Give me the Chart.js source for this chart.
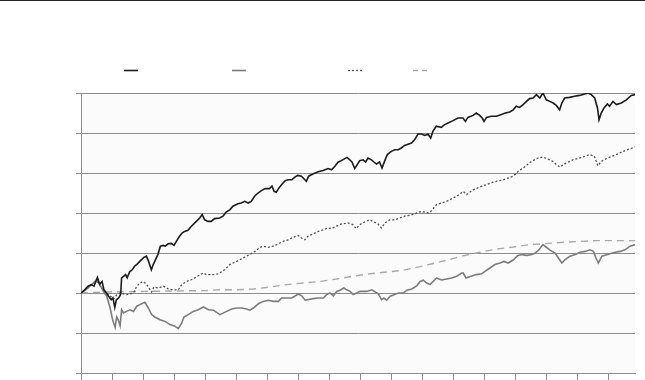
<!DOCTYPE html>
<html>
<head>
<meta charset="utf-8">
<script src="https://cdn.jsdelivr.net/npm/chart.js@4/dist/chart.umd.min.js"></script>
<style>
  html, body { margin: 0; padding: 0; background: #fff; }
  canvas { display: block; }
</style>
</head>
<body>
<canvas id="chart" width="645" height="380"></canvas>
<script>
// x = years from start, y = cumulative return (one unit per grid line)
const blackX = [0,0.12,0.23,0.33,0.42,0.53,0.60,0.68,0.74,0.82,0.89,0.98,1.03,1.09,1.14,1.22,1.28,1.31,1.38,1.44,1.49,1.57,1.65,1.73,1.82,1.92,2.03,2.11,2.18,2.27,2.33,2.40,2.48,2.56,2.65,2.72,2.81,2.91,3.00,3.09,3.18,3.26,3.34,3.45,3.56,3.72,3.83,3.91,3.99,4.10,4.20,4.31,4.47,4.58,4.68,4.80,4.90,5.06,5.17,5.28,5.39,5.49,5.60,5.71,5.82,5.94,6.08,6.16,6.23,6.30,6.38,6.48,6.59,6.68,6.80,6.89,6.99,7.11,7.22,7.27,7.34,7.48,7.65,7.81,7.97,8.08,8.19,8.29,8.40,8.51,8.58,8.67,8.74,8.83,8.91,8.99,9.10,9.18,9.26,9.37,9.45,9.53,9.63,9.71,9.80,9.88,10.01,10.12,10.23,10.33,10.44,10.55,10.66,10.76,10.87,10.98,11.09,11.19,11.28,11.35,11.46,11.62,11.73,11.84,12.00,12.16,12.32,12.40,12.48,12.65,12.75,12.86,12.94,13.00,13.08,13.24,13.40,13.56,13.69,13.83,13.94,14.04,14.15,14.26,14.37,14.47,14.58,14.69,14.80,14.90,15.01,15.12,15.23,15.33,15.44,15.51,15.60,15.76,15.92,16.08,16.25,16.35,16.46,16.57,16.66,16.71,16.78,16.87,16.98,17.05,17.16,17.27,17.43,17.59,17.75,17.87];
const blackY = [0,0.08,0.17,0.21,0.17,0.39,0.22,0.29,0.08,0.00,-0.08,-0.17,-0.12,-0.36,-0.17,-0.12,-0.03,0.38,0.42,0.46,0.38,0.53,0.58,0.67,0.73,0.81,0.89,0.92,0.79,0.58,0.71,0.83,0.96,1.17,1.19,1.17,1.23,1.24,1.19,1.31,1.42,1.50,1.54,1.57,1.67,1.79,1.875,1.96,1.83,1.79,1.79,1.86,1.875,1.92,2.02,2.08,2.17,2.23,2.25,2.29,2.25,2.29,2.42,2.50,2.56,2.61,2.61,2.67,2.54,2.52,2.62,2.72,2.81,2.83,2.83,2.89,2.94,2.92,2.83,2.79,2.92,2.975,3.03,3.06,3.11,3.08,3.17,3.27,3.31,3.36,3.39,3.33,3.275,3.11,3.21,3.31,3.33,3.275,3.375,3.33,3.275,3.225,3.275,3.125,3.31,3.46,3.54,3.58,3.58,3.625,3.69,3.72,3.75,3.83,3.975,3.975,3.94,3.975,3.875,4.04,4.17,4.14,4.21,4.25,4.31,4.375,4.375,4.29,4.39,4.44,4.50,4.44,4.375,4.29,4.39,4.42,4.42,4.46,4.50,4.525,4.58,4.67,4.64,4.71,4.79,4.86,4.875,4.96,4.875,5.0,4.83,4.79,4.75,4.69,4.58,4.75,4.875,4.89,4.92,4.94,4.975,5.0,4.96,4.875,4.625,4.33,4.50,4.625,4.725,4.67,4.79,4.71,4.75,4.83,4.94,4.96];

const grayX = [0,0.18,0.34,0.51,0.61,0.72,0.83,0.94,1.02,1.10,1.15,1.20,1.26,1.31,1.37,1.47,1.58,1.69,1.80,1.90,2.06,2.17,2.28,2.38,2.55,2.71,2.87,3.03,3.14,3.25,3.32,3.46,3.62,3.78,3.95,4.11,4.27,4.48,4.70,4.86,5.02,5.18,5.34,5.45,5.56,5.72,5.88,6.04,6.20,6.37,6.47,6.80,7.01,7.12,7.23,7.49,7.66,7.82,7.92,8.03,8.14,8.25,8.35,8.48,8.57,8.68,8.78,8.89,9.00,9.22,9.38,9.59,9.70,9.77,9.86,9.97,10.24,10.40,10.51,10.67,10.83,10.94,11.04,11.15,11.26,11.47,11.63,11.96,12.12,12.28,12.33,12.42,12.75,12.92,13.03,13.19,13.35,13.52,13.65,13.78,13.95,14.08,14.22,14.38,14.54,14.65,14.76,14.90,15.00,15.13,15.29,15.40,15.51,15.61,15.77,15.94,16.10,16.26,16.42,16.53,16.61,16.69,16.80,17.06,17.23,17.39,17.55,17.71,17.87];
const grayY = [0,0.10,0.21,0.33,0.21,0.04,-0.08,-0.375,-0.67,-0.86,-0.60,-0.67,-0.82,-0.42,-0.50,-0.46,-0.42,-0.46,-0.33,-0.29,-0.23,-0.375,-0.54,-0.60,-0.67,-0.71,-0.79,-0.83,-0.89,-0.75,-0.60,-0.54,-0.46,-0.42,-0.35,-0.42,-0.43,-0.54,-0.46,-0.40,-0.375,-0.375,-0.40,-0.43,-0.375,-0.27,-0.21,-0.18,-0.21,-0.21,-0.125,-0.125,-0.025,-0.07,-0.18,-0.14,-0.125,-0.125,-0.04,0,-0.07,0.04,0.07,0.125,0.08,0.04,-0.04,0,0.04,0.04,0.08,-0.02,-0.17,-0.125,-0.18,-0.08,0,0,0.07,0.10,0.18,0.29,0.32,0.25,0.21,0.375,0.325,0.375,0.42,0.50,0.50,0.375,0.46,0.48,0.54,0.625,0.71,0.75,0.79,0.75,0.83,0.93,0.96,0.94,0.96,1.0,1.07,1.21,1.15,1.07,1.0,0.875,0.75,0.83,0.92,0.96,1.02,1.04,1.08,1.04,0.875,0.75,0.92,0.98,1.02,1.04,1.08,1.17,1.21];

const dottedX = [0,0.20,0.35,0.50,0.62,0.75,0.90,1.05,1.15,1.26,1.47,1.69,1.80,1.90,2.01,2.12,2.23,2.28,2.35,2.49,2.66,2.82,2.98,3.14,3.25,3.41,3.62,3.78,3.95,4.05,4.27,4.43,4.63,4.80,5.02,5.23,5.44,5.61,5.77,5.88,6.04,6.19,6.35,6.52,6.68,6.84,7.00,7.11,7.22,7.32,7.48,7.65,7.81,7.97,8.08,8.24,8.40,8.61,8.77,8.88,8.99,9.15,9.31,9.42,9.58,9.69,9.80,9.96,10.12,10.28,10.44,10.60,10.76,10.98,11.19,11.26,11.47,11.79,12.12,12.33,12.44,12.65,12.97,13.29,13.62,13.94,14.10,14.31,14.53,14.74,14.90,15.06,15.22,15.38,15.46,15.60,15.87,16.19,16.40,16.56,16.67,16.78,16.99,17.26,17.58,17.87];
const dottedY = [0,0.12,0.20,0.30,0.18,0.05,-0.05,-0.15,-0.05,0,-0.04,0,0.17,0.25,0.29,0.21,0.08,0.025,0.15,0.125,0.17,0.10,0.08,0.08,0.21,0.29,0.35,0.43,0.50,0.46,0.46,0.48,0.58,0.71,0.79,0.875,0.96,1.04,1.14,1.17,1.14,1.17,1.225,1.29,1.33,1.39,1.44,1.375,1.33,1.42,1.475,1.54,1.58,1.625,1.61,1.67,1.725,1.75,1.71,1.61,1.71,1.775,1.83,1.79,1.725,1.625,1.75,1.83,1.83,1.875,1.92,1.94,1.98,2.04,2.0,2.02,2.21,2.29,2.42,2.54,2.46,2.58,2.68,2.77,2.83,2.92,3.04,3.15,3.29,3.375,3.40,3.35,3.29,3.18,3.15,3.23,3.33,3.40,3.46,3.42,3.18,3.29,3.375,3.46,3.57,3.65];

const dashedX = [0,1,2,3,4,4.48,5.02,5.56,6.10,6.63,7.17,7.71,8.25,8.78,9.32,9.86,10.40,10.94,11.26,11.80,12.33,12.87,13.41,13.95,14.48,14.91,15.56,16.10,16.63,17.28,17.87];
const dashedY = [0,0.03,0.04,0.05,0.06,0.08,0.08,0.10,0.15,0.21,0.25,0.29,0.35,0.42,0.48,0.525,0.57,0.66,0.72,0.82,0.93,1.02,1.10,1.15,1.21,1.23,1.27,1.29,1.31,1.31,1.31];

const xMin = 0, xMax = 17.87;
const yMin = -2, yMax = 5;

function pts(xs, ys) { return xs.map((x, i) => ({ x: x, y: ys[i] })); }

const seriesStyles = [
    { color: "#1c1c1c", width: 1.6, dash: [] },
    { color: "#7c7c7c", width: 1.6, dash: [] },
    { color: "#4e4e4e", width: 1.3, dash: [2, 2] },
    { color: "#a9a9a9", width: 1.4, dash: [7, 5] }
];

const frame = {
    id: "frame",
    beforeDraw(chart) {
        const ctx = chart.ctx, a = chart.chartArea;
        ctx.save();
        ctx.fillStyle = "#fbfbfb";
        ctx.fillRect(a.left, a.top, a.right - a.left, a.bottom - a.top);
        ctx.fillStyle = "#222";
        ctx.fillRect(0, 0, chart.width, 1);
        ctx.restore();
    },
    afterDraw(chart) {
        // legend samples (reference shows only the line keys)
        const ctx = chart.ctx;
        const keys = [[124, 138], [232, 246], [348, 362], [413, 427]];
        ctx.save();
        keys.forEach((k, i) => {
            const s = seriesStyles[i];
            ctx.strokeStyle = s.color;
            ctx.lineWidth = s.width;
            ctx.setLineDash(i === 3 ? [5, 4] : s.dash);
            ctx.beginPath();
            ctx.moveTo(k[0], 70.5);
            ctx.lineTo(k[1], 70.5);
            ctx.stroke();
        });
        ctx.restore();
    }
};

const allX = [blackX, grayX, dottedX, dashedX];
const allY = [blackY, grayY, dottedY, dashedY];

new Chart(document.getElementById("chart"), {
    type: "line",
    data: {
        datasets: allX.map((xs, i) => ({
            data: pts(xs, allY[i]),
            borderColor: seriesStyles[i].color,
            borderWidth: seriesStyles[i].width,
            borderDash: seriesStyles[i].dash,
            pointRadius: 0,
            tension: 0,
            fill: false
        }))
    },
    options: {
        responsive: false,
        animation: false,
        parsing: false,
        layout: { padding: { left: 76, right: 10, top: 93, bottom: 0 } },
        plugins: { legend: { display: false }, tooltip: { enabled: false } },
        scales: {
            x: {
                type: "linear",
                min: xMin,
                max: xMax,
                ticks: { display: false, stepSize: 1, includeBounds: false },
                grid: { drawOnChartArea: false, drawTicks: true, tickLength: 7, color: "#8c8c8c" },
                border: { color: "#8c8c8c" }
            },
            y: {
                min: yMin,
                max: yMax,
                ticks: { display: false, stepSize: 1 },
                grid: { drawTicks: true, tickLength: 5, color: "#8c8c8c" },
                border: { color: "#8c8c8c" }
            }
        }
    },
    plugins: [frame]
});
</script>
</body>
</html>
